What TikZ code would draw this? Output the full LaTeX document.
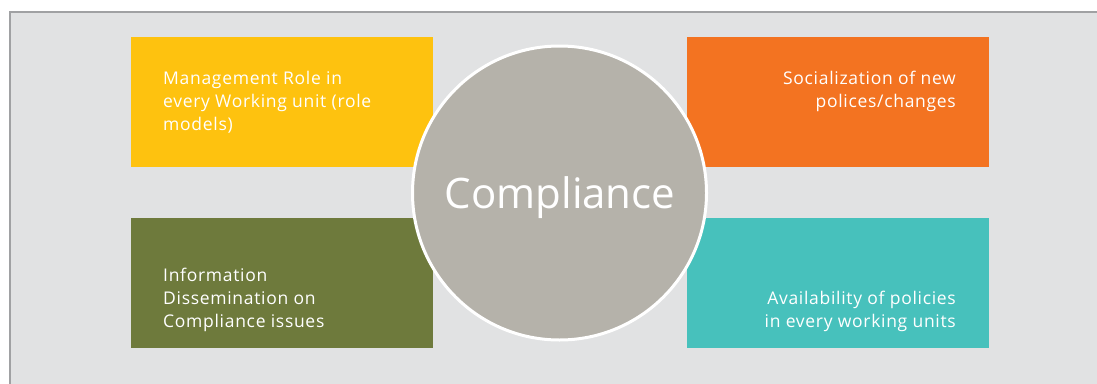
\documentclass[tikz,border=0pt]{standalone}
\usepackage{fontspec}
\setmainfont{Open Sans}
\newfontfamily\widefont[LetterSpace=4]{Open Sans}
\definecolor{bgfill}{HTML}{E1E2E3}
\definecolor{framecol}{HTML}{A0A1A3}
\definecolor{cyellow}{HTML}{FEC20F}
\definecolor{corange}{HTML}{F37321}
\definecolor{colive}{HTML}{6E7A3C}
\definecolor{cteal}{HTML}{47C1BC}
\definecolor{cgrey}{HTML}{B5B2AA}
\begin{document}
\begin{tikzpicture}[x=1pt,y=-1pt,
  tile/.style={draw=none,inner sep=0pt,anchor=north west,minimum width=302pt,minimum height=130pt},
  label/.style={inner sep=0pt,text=white,font=\widefont\fontsize{17.5}{23}\selectfont},
  hub/.style={circle,draw=white,line width=3pt,fill=cgrey,minimum size=294pt,inner sep=0pt}]
\useasboundingbox (0,0) rectangle (1097,383);
\fill[white] (0,0) rectangle (1097,383);
\begin{scope}
\clip (0,0) rectangle (1097,383);
\draw[framecol,line width=2pt,fill=bgfill] (9.5,12) rectangle (1120,400);
\end{scope}
\node[tile,fill=cyellow] (ty) at (131,37) {};
\node[tile,fill=corange] (to) at (687,37) {};
\node[tile,fill=colive] (tg) at (131,218) {};
\node[tile,fill=cteal] (tt) at (687,218) {};
\node[hub] (hub) at (559.5,193) {};
\node[inner sep=0pt,text=white,font=\fontsize{42}{42}\selectfont,anchor=base] (hubtext) at (560,208) {Compliance};
\node[label,align=left,anchor=north west] (ly) at (163,71) {Management Role in\\every Working unit (role\\models)};
\node[label,align=right,anchor=north east] (lo) at (956,71) {Socialization of new\\polices/changes};
\node[label,align=left,anchor=south west] (lg) at (163,332) {Information\\Dissemination on\\Compliance issues};
\node[label,align=right,anchor=south east] (lt) at (956,332) {Availability of policies\\in every working units};
\end{tikzpicture}
\end{document}
